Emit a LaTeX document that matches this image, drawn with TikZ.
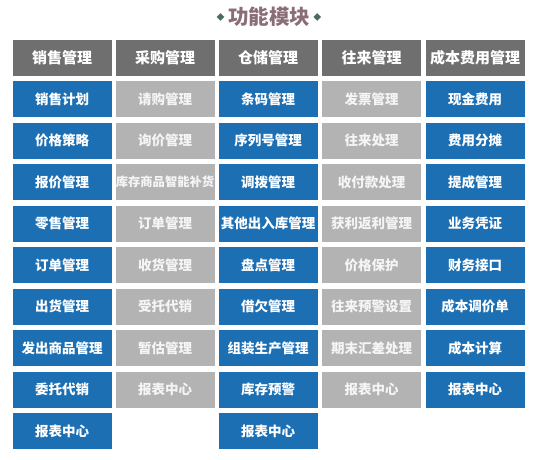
\documentclass[tikz,border=0pt]{standalone}
\usepackage{fontspec}
\usetikzlibrary{positioning}
\newfontfamily\cjk{Noto Sans CJK SC}
\definecolor{headgray}{HTML}{6F6F6F}
\definecolor{boxblue}{HTML}{1D6FB3}
\definecolor{boxgray}{HTML}{B3B3B3}
\definecolor{titlemauve}{HTML}{8A6D77}
\definecolor{dotgreen}{HTML}{4C6A5E}
\begin{document}
\begin{tikzpicture}[x=1pt, y=-1pt,
        every node/.style={rectangle, minimum width=99pt, minimum height=36pt, inner sep=0pt, text=white, font=\cjk\bfseries\fontsize{13.5}{14}\selectfont},
        head/.style={fill=headgray, font=\cjk\bfseries\fontsize{15}{16}\selectfont},
        bluebox/.style={fill=boxblue},
        graybox/.style={fill=boxgray, text=white!92!gray}]
        \useasboundingbox (0, 0) rectangle (538, 460);
        \node[minimum width=0pt, minimum height=0pt, text=titlemauve, font=\cjk\bfseries\fontsize{20.5}{22}\selectfont] (title) at (269, 17) {功能模块};
        \node[minimum width=0pt, minimum height=0pt, text=dotgreen, font=\cjk\fontsize{8}{8}\selectfont, left=3pt of title] (ldot) {◆};
        \node[minimum width=0pt, minimum height=0pt, text=dotgreen, font=\cjk\fontsize{8}{8}\selectfont, right=3pt of title] (rdot) {◆};
        % headers
        \node[head] (h1) at (62, 58) {销售管理};
        \node[head] (h2) at (165, 58) {采购管理};
        \node[head] (h3) at (268, 58) {仓储管理};
        \node[head] (h4) at (371.5, 58) {往来管理};
        \node[head] (h5) at (475, 58) {成本费用管理};
        % sales
        \node[bluebox] (s1) at (62, 99) {销售计划};
        \node[bluebox] (s2) at (62, 140.5) {价格策略};
        \node[bluebox] (s3) at (62, 182) {报价管理};
        \node[bluebox] (s4) at (62, 223.5) {零售管理};
        \node[bluebox] (s5) at (62, 265) {订单管理};
        \node[bluebox] (s6) at (62, 306.5) {出货管理};
        \node[bluebox] (s7) at (62, 348) {发出商品管理};
        \node[bluebox] (s8) at (62, 389.5) {委托代销};
        \node[bluebox] (s9) at (62, 431) {报表中心};
        % purchase
        \node[graybox] (p1) at (165, 99) {请购管理};
        \node[graybox] (p2) at (165, 140.5) {询价管理};
        \node[graybox, font=\cjk\bfseries\fontsize{12.3}{13}\selectfont] (p3) at (165, 182) {库存商品智能补货};
        \node[graybox] (p4) at (165, 223.5) {订单管理};
        \node[graybox] (p5) at (165, 265) {收货管理};
        \node[graybox] (p6) at (165, 306.5) {受托代销};
        \node[graybox] (p7) at (165, 348) {暂估管理};
        \node[graybox] (p8) at (165, 389.5) {报表中心};
        % storage
        \node[bluebox] (w1) at (268, 99) {条码管理};
        \node[bluebox] (w2) at (268, 140.5) {序列号管理};
        \node[bluebox] (w3) at (268, 182) {调拨管理};
        \node[bluebox] (w4) at (268, 223.5) {其他出入库管理};
        \node[bluebox] (w5) at (268, 265) {盘点管理};
        \node[bluebox] (w6) at (268, 306.5) {借欠管理};
        \node[bluebox] (w7) at (268, 348) {组装生产管理};
        \node[bluebox] (w8) at (268, 389.5) {库存预警};
        \node[bluebox] (w9) at (268, 431) {报表中心};
        % accounts
        \node[graybox] (a1) at (371.5, 99) {发票管理};
        \node[graybox] (a2) at (371.5, 140.5) {往来处理};
        \node[graybox] (a3) at (371.5, 182) {收付款处理};
        \node[graybox] (a4) at (371.5, 223.5) {获利返利管理};
        \node[graybox] (a5) at (371.5, 265) {价格保护};
        \node[graybox] (a6) at (371.5, 306.5) {往来预警设置};
        \node[graybox] (a7) at (371.5, 348) {期末汇差处理};
        \node[graybox] (a8) at (371.5, 389.5) {报表中心};
        % cost
        \node[bluebox] (c1) at (475, 99) {现金费用};
        \node[bluebox] (c2) at (475, 140.5) {费用分摊};
        \node[bluebox] (c3) at (475, 182) {提成管理};
        \node[bluebox] (c4) at (475, 223.5) {业务凭证};
        \node[bluebox] (c5) at (475, 265) {财务接口};
        \node[bluebox] (c6) at (475, 306.5) {成本调价单};
        \node[bluebox] (c7) at (475, 348) {成本计算};
        \node[bluebox] (c8) at (475, 389.5) {报表中心};
    \end{tikzpicture}
\end{document}
